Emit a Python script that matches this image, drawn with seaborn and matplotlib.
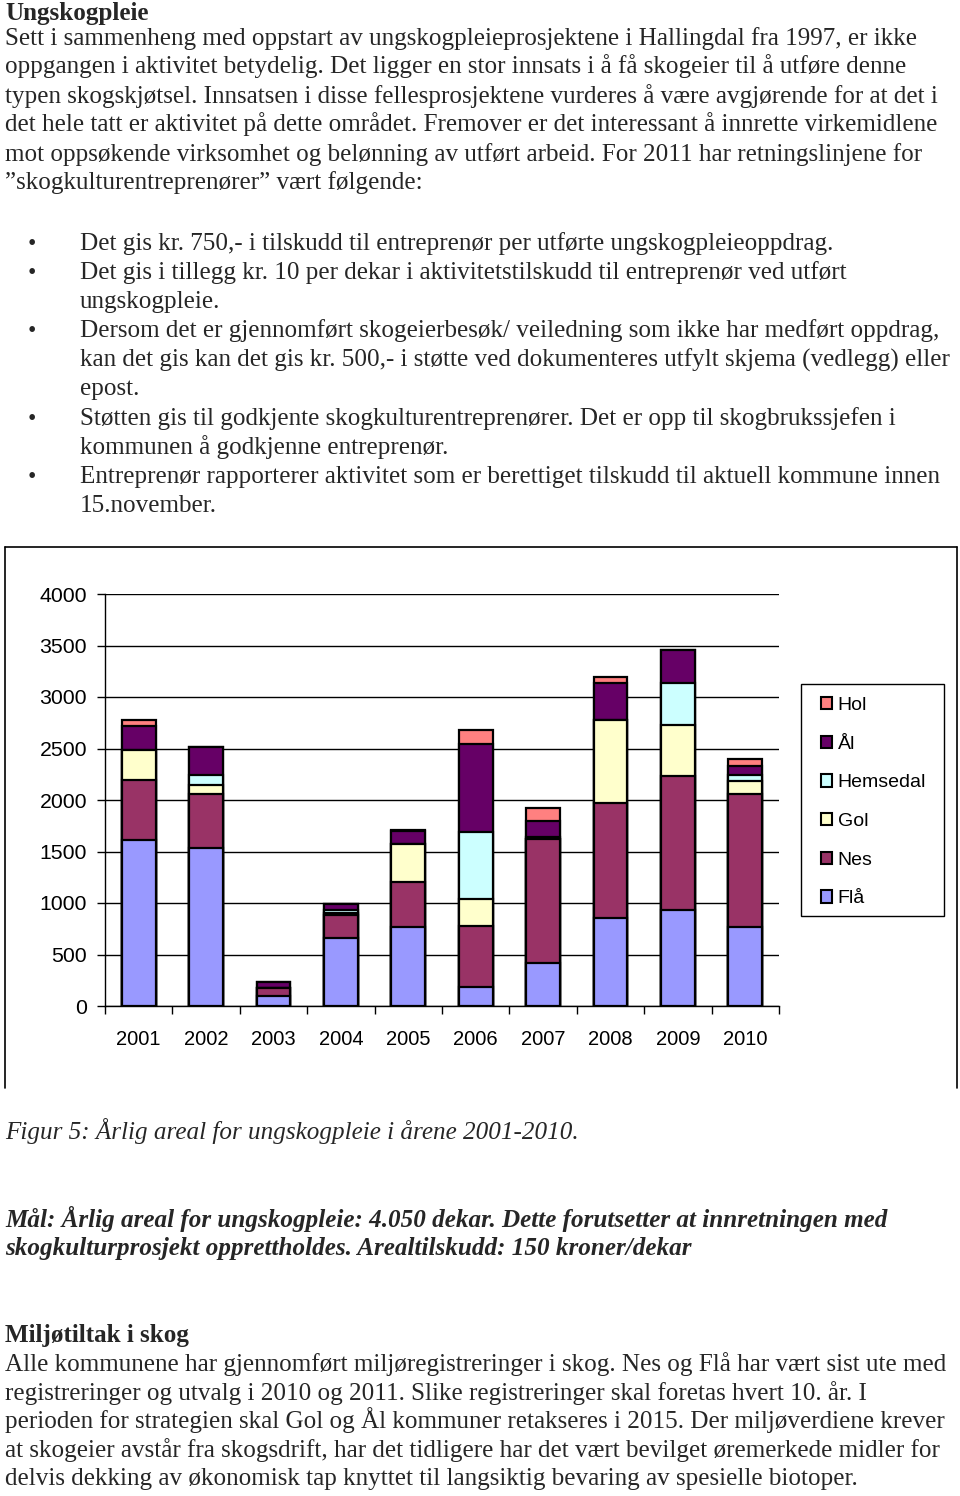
import matplotlib
matplotlib.use("Agg")
import matplotlib.pyplot as plt
from matplotlib.lines import Line2D
from matplotlib.patches import Patch, Rectangle
import seaborn as sns
import pandas as pd

# -------------------------
# Data (dekar per kommune og år)
# -------------------------
years = ["2001", "2002", "2003", "2004", "2005", "2006", "2007", "2008", "2009", "2010"]
flaa = [1615, 1535, 95, 660, 765, 180, 420, 850, 935, 765]
nes = [575, 520, 75, 225, 440, 595, 1200, 1125, 1300, 1290]
gol = [300, 90, 0, 15, 365, 260, 0, 805, 490, 130]
hemsedal = [0, 95, 0, 35, 0, 655, 25, 0, 410, 55]
aal = [225, 275, 60, 60, 130, 850, 150, 360, 320, 90]
hol = [65, 0, 0, 0, 10, 135, 130, 55, 0, 70]

series_names = ["Flå", "Nes", "Gol", "Hemsedal", "Ål", "Hol"]
series_colors = ["#9999FF", "#993366", "#FFFFCC", "#CCFFFF", "#660066", "#FF8080"]
y_ticks = [0, 500, 1000, 1500, 2000, 2500, 3000, 3500, 4000]

heading1 = "Ungskogpleie"
para1 = [
    "Sett i sammenheng med oppstart av ungskogpleieprosjektene i Hallingdal fra 1997, er ikke",
    "oppgangen i aktivitet betydelig. Det ligger en stor innsats i å få skogeier til å utføre denne",
    "typen skogskjøtsel. Innsatsen i disse fellesprosjektene vurderes å være avgjørende for at det i",
    "det hele tatt er aktivitet på dette området. Fremover er det interessant å innrette virkemidlene",
    "mot oppsøkende virksomhet og belønning av utført arbeid. For 2011 har retningslinjene for",
    "”skogkulturentreprenører” vært følgende:",
]
bullets = [
    ["Det gis kr. 750,- i tilskudd til entreprenør per utførte ungskogpleieoppdrag."],
    ["Det gis i tillegg kr. 10 per dekar i aktivitetstilskudd til entreprenør ved utført",
     "ungskogpleie."],
    ["Dersom det er gjennomført skogeierbesøk/ veiledning som ikke har medført oppdrag,",
     "kan det gis kan det gis kr. 500,- i støtte ved dokumenteres utfylt skjema (vedlegg) eller",
     "epost."],
    ["Støtten gis til godkjente skogkulturentreprenører. Det er opp til skogbrukssjefen i",
     "kommunen å godkjenne entreprenør."],
    ["Entreprenør rapporterer aktivitet som er berettiget tilskudd til aktuell kommune innen",
     "15.november."],
]
caption = "Figur 5: Årlig areal for ungskogpleie i årene 2001-2010."
goal = [
    "Mål: Årlig areal for ungskogpleie: 4.050 dekar. Dette forutsetter at innretningen med",
    "skogkulturprosjekt opprettholdes. Arealtilskudd: 150 kroner/dekar",
]
heading2 = "Miljøtiltak i skog"
para2 = [
    "Alle kommunene har gjennomført miljøregistreringer i skog. Nes og Flå har vært sist ute med",
    "registreringer og utvalg i 2010 og 2011. Slike registreringer skal foretas hvert 10. år. I",
    "perioden for strategien skal Gol og Ål kommuner retakseres i 2015. Der miljøverdiene krever",
    "at skogeier avstår fra skogsdrift, har det tidligere har det vært bevilget øremerkede midler for",
    "delvis dekking av økonomisk tap knyttet til langsiktig bevaring av spesielle biotoper.",
]

# -------------------------
# Configuration
# -------------------------
sns.set_theme(style="white")
plt.rcParams["font.family"] = ["Liberation Serif", "DejaVu Serif"]

W, H = 960, 1496
fig = plt.figure(figsize=(W / 100, H / 100), dpi=100)
fig.patch.set_facecolor("white")

SERIF = ["Liberation Serif", "DejaVu Serif"]
SANS = ["Liberation Sans", "DejaVu Sans"]
FS = 18.1


def put(x, y, s, **kw):
    fig.text(x / W, 1 - y / H, s, va="baseline", ha=kw.pop("ha", "left"),
             fontsize=kw.pop("fontsize", FS), family=SERIF, **kw)


# -------------------------
# Page text
# -------------------------
put(5, 20, heading1, weight="bold")
for i, line in enumerate(para1):
    put(5, 44.5 + 29 * i, line)

y = 250
for item in bullets:
    put(32, y, "•", fontsize=17, ha="center")
    for line in item:
        put(80, y, line)
        y += 29.1

put(5, 1139, caption, style="italic")
for i, line in enumerate(goal):
    put(5, 1227 + 28.5 * i, line, style="italic", weight="bold")
put(5, 1342, heading2, weight="bold")
for i, line in enumerate(para2):
    put(5, 1371 + 28.6 * i, line)

# -------------------------
# Chart frame
# -------------------------
fx = lambda v: v / W
fy = lambda v: 1 - v / H
for xs, ys in [([5, 5], [547, 1088]), ([5, 957], [547, 547]), ([957, 957], [547, 1088])]:
    fig.add_artist(Line2D([fx(v) for v in xs], [fy(v) for v in ys],
                          color="black", lw=1.2))

# -------------------------
# Stacked bars
# -------------------------
df = pd.DataFrame({"year": years, "Flå": flaa, "Nes": nes, "Gol": gol,
                   "Hemsedal": hemsedal, "Ål": aal, "Hol": hol})
cum = df[series_names].cumsum(axis=1)
cum["year"] = df["year"]

ax = fig.add_axes([105 / W, 1 - 1006 / H, (779 - 105) / W, (1006 - 594) / H])
ax.set_axisbelow(True)
for name, color in reversed(list(zip(series_names, series_colors))):
    sns.barplot(data=cum, x="year", y=name, color=color, saturation=1,
                width=0.5, edgecolor="black", linewidth=1.6, errorbar=None,
                ax=ax, zorder=3)

ax.set_ylim(0, 4000)
ax.set_xlim(-0.5, len(years) - 0.5)
ax.set_yticks(y_ticks)
ax.set_yticklabels([str(v) for v in y_ticks], family=SANS, fontsize=15.3)
ax.set_xticks(range(len(years)))
ax.set_xticklabels(years, family=SANS, fontsize=14.5)
ax.set_xticks([i - 0.5 for i in range(len(years) + 1)], minor=True)
ax.tick_params(axis="x", which="major", length=0, pad=17, colors="black")
ax.tick_params(axis="x", which="minor", length=6, width=1, direction="out",
               color="black", bottom=True)
ax.tick_params(axis="y", length=6, width=1, direction="out", pad=7,
               colors="black", left=True)
ax.yaxis.grid(True, color="black", lw=1)
ax.xaxis.grid(False)
ax.set_xlabel("")
ax.set_ylabel("")
for side in ["top", "right"]:
    ax.spines[side].set_visible(False)
for side in ["left", "bottom"]:
    ax.spines[side].set_color("black")
    ax.spines[side].set_linewidth(1)

# legend: frame drawn separately so the padding can differ per side
fig.add_artist(Rectangle((801 / W, 1 - 916 / H), (944 - 801) / W, (916 - 684) / H,
                         transform=fig.transFigure, facecolor="white",
                         edgecolor="black", lw=1, zorder=1))
handles = [Patch(facecolor=c, edgecolor="black", lw=1.5)
           for c in reversed(series_colors)]
leg = fig.legend(handles, list(reversed(series_names)), loc="upper left",
                 bbox_to_anchor=(821 / W, 1 - 697 / H), borderaxespad=0,
                 prop={"family": SANS, "size": 14}, frameon=False,
                 handlelength=0.58, handleheight=0.58, handletextpad=0.28,
                 labelspacing=1.115, borderpad=0)
leg.set_zorder(2)
for t in leg.get_texts():
    t.set_color("black")

fig.savefig("out.png", dpi=100)
